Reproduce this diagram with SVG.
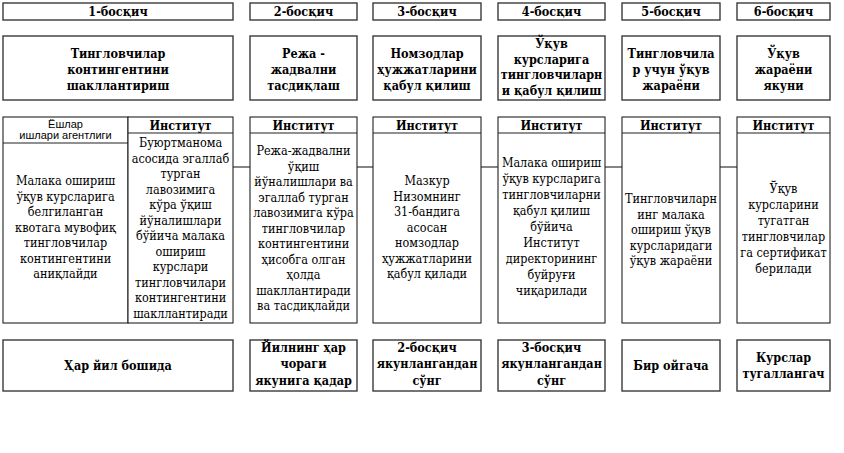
<svg xmlns="http://www.w3.org/2000/svg" width="844" height="453" viewBox="0 0 844 453">
<style>
.bx{fill:#fff;stroke:#3a3a3a;stroke-width:1.4}
.mb{fill:#fff;stroke:#222;stroke-width:1.1}
.ln{stroke:#222;stroke-width:1.1;fill:none}
text{font-family:'DejaVu Serif Condensed','DejaVu Serif',serif;font-stretch:condensed;font-size:12.5px;text-anchor:middle;fill:#000}
.b{font-weight:bold}
.s{font-family:'Liberation Sans',Arial,sans-serif;font-stretch:normal;font-size:11px}
</style>
<rect width="844" height="453" fill="#fff"/>
<g id="connectors">
<line class="ln" x1="233" y1="167" x2="250" y2="167"/>
<line class="ln" x1="357" y1="167" x2="373" y2="167"/>
<line class="ln" x1="481" y1="167" x2="498" y2="167"/>
<line class="ln" x1="605" y1="167" x2="622" y2="167"/>
<line class="ln" x1="720" y1="167" x2="737" y2="167"/>
</g>
<g id="h1"><rect class="bx" x="3" y="3" width="230" height="17"/><text class="b" x="118" y="16">1-босқич</text></g>
<g id="h2"><rect class="bx" x="250" y="3" width="107" height="17"/><text class="b" x="303.5" y="16">2-босқич</text></g>
<g id="h3"><rect class="bx" x="373" y="3" width="108" height="17"/><text class="b" x="427" y="16">3-босқич</text></g>
<g id="h4"><rect class="bx" x="498" y="3" width="107" height="17"/><text class="b" x="551.5" y="16">4-босқич</text></g>
<g id="h5"><rect class="bx" x="622" y="3" width="98" height="17"/><text class="b" x="671" y="16">5-босқич</text></g>
<g id="h6"><rect class="bx" x="737" y="3" width="93" height="17"/><text class="b" x="783.5" y="16">6-босқич</text></g>

<g id="t1"><rect class="bx" x="3" y="36" width="230" height="64"/>
<text class="b" x="118" y="58">Тингловчилар</text><text class="b" x="118" y="74">контингентини</text><text class="b" x="118" y="90">шакллантириш</text></g>
<g id="t2"><rect class="bx" x="250" y="36" width="107" height="64"/>
<text class="b" x="303.5" y="58">Режа -</text><text class="b" x="303.5" y="74">жадвални</text><text class="b" x="303.5" y="90">тасдиқлаш</text></g>
<g id="t3"><rect class="bx" x="373" y="36" width="108" height="64"/>
<text class="b" x="427" y="58">Номзодлар</text><text class="b" x="427" y="74">ҳужжатларини</text><text class="b" x="427" y="90">қабул қилиш</text></g>
<g id="t4"><rect class="bx" x="498" y="36" width="107" height="64"/>
<text class="b" x="551.5" y="48">Ўқув</text><text class="b" x="551.5" y="63.5">курсларига</text><text class="b" x="551.5" y="79">тингловчиларн</text><text class="b" x="551.5" y="94.5">и қабул қилиш</text></g>
<g id="t5"><rect class="bx" x="622" y="36" width="98" height="64"/>
<text class="b" x="671" y="58">Тингловчила</text><text class="b" x="671" y="74">р учун ўқув</text><text class="b" x="671" y="90">жараёни</text></g>
<g id="t6"><rect class="bx" x="737" y="36" width="93" height="64"/>
<text class="b" x="783.5" y="58">Ўқув</text><text class="b" x="783.5" y="74">жараёни</text><text class="b" x="783.5" y="90">якуни</text></g>

<g id="m1a"><rect class="mb" x="3" y="117" width="125" height="206"/>
<line class="ln" x1="3" y1="143" x2="128" y2="143"/>
<text class="s" x="65.5" y="128">Ёшлар</text><text class="s" x="65.5" y="139">ишлари агентлиги</text>
<text x="65.5" y="185">Малака ошириш</text>
<text x="65.5" y="200.5">ўқув курсларига</text>
<text x="65.5" y="216">белгиланган</text>
<text x="65.5" y="231.5">квотага мувофиқ</text>
<text x="65.5" y="247">тингловчилар</text>
<text x="65.5" y="262.5">контингентини</text>
<text x="65.5" y="278">аниқлайди</text></g>
<g id="m1b"><rect class="mb" x="128" y="117" width="105" height="206"/>
<line class="ln" x1="128" y1="133" x2="233" y2="133"/>
<text class="b" x="180.5" y="130">Институт</text>
<text x="180.5" y="147">Буюртманома</text>
<text x="180.5" y="162.5">асосида эгаллаб</text>
<text x="180.5" y="178">турган</text>
<text x="180.5" y="193.5">лавозимига</text>
<text x="180.5" y="209">кўра ўқиш</text>
<text x="180.5" y="224.5">йўналишлари</text>
<text x="180.5" y="240">бўйича малака</text>
<text x="180.5" y="255.5">ошириш</text>
<text x="180.5" y="271">курслари</text>
<text x="180.5" y="286.5">тингловчилари</text>
<text x="180.5" y="302">контингентини</text>
<text x="180.5" y="317.5">шакллантиради</text></g>
<g id="m2"><rect class="mb" x="250" y="117" width="107" height="206"/>
<line class="ln" x1="250" y1="133" x2="357" y2="133"/>
<text class="b" x="303.5" y="130">Институт</text>
<text x="303.5" y="155">Режа-жадвални</text>
<text x="303.5" y="170.5">ўқиш</text>
<text x="303.5" y="186">йўналишлари ва</text>
<text x="303.5" y="201.5">эгаллаб турган</text>
<text x="303.5" y="217">лавозимига кўра</text>
<text x="303.5" y="232.5">тингловчилар</text>
<text x="303.5" y="248">контингентини</text>
<text x="303.5" y="263.5">ҳисобга олган</text>
<text x="303.5" y="279">ҳолда</text>
<text x="303.5" y="294.5">шакллантиради</text>
<text x="303.5" y="310">ва тасдиқлайди</text></g>
<g id="m3"><rect class="mb" x="373" y="117" width="108" height="206"/>
<line class="ln" x1="373" y1="133" x2="481" y2="133"/>
<text class="b" x="427" y="130">Институт</text>
<text x="427" y="185">Мазкур</text>
<text x="427" y="200.5">Низомнинг</text>
<text x="427" y="216">31-бандига</text>
<text x="427" y="231.5">асосан</text>
<text x="427" y="247">номзодлар</text>
<text x="427" y="262.5">ҳужжатларини</text>
<text x="427" y="278">қабул қилади</text></g>
<g id="m4"><rect class="mb" x="498" y="117" width="107" height="206"/>
<line class="ln" x1="498" y1="133" x2="605" y2="133"/>
<text class="b" x="551.5" y="130">Институт</text>
<text x="551.5" y="167">Малака ошириш</text>
<text x="551.5" y="183">ўқув курсларига</text>
<text x="551.5" y="199">тингловчиларни</text>
<text x="551.5" y="215">қабул қилиш</text>
<text x="551.5" y="231">бўйича</text>
<text x="551.5" y="247">Институт</text>
<text x="551.5" y="263">директорининг</text>
<text x="551.5" y="279">буйруғи</text>
<text x="551.5" y="295">чиқарилади</text></g>
<g id="m5"><rect class="mb" x="622" y="117" width="98" height="206"/>
<line class="ln" x1="622" y1="133" x2="720" y2="133"/>
<text class="b" x="671" y="130">Институт</text>
<text x="671" y="203">Тингловчиларн</text>
<text x="671" y="218.5">инг малака</text>
<text x="671" y="234">ошириш ўқув</text>
<text x="671" y="249.5">курсларидаги</text>
<text x="671" y="265">ўқув жараёни</text></g>
<g id="m6"><rect class="mb" x="737" y="117" width="93" height="206"/>
<line class="ln" x1="737" y1="133" x2="830" y2="133"/>
<text class="b" x="783.5" y="130">Институт</text>
<text x="783.5" y="193">Ўқув</text>
<text x="783.5" y="209">курсларини</text>
<text x="783.5" y="225">тугатган</text>
<text x="783.5" y="241">тингловчилар</text>
<text x="783.5" y="257">га сертификат</text>
<text x="783.5" y="273">берилади</text></g>

<g id="b1"><rect class="bx" x="3" y="340" width="230" height="51"/><text class="b" x="118" y="370">Ҳар йил бошида</text></g>
<g id="b2"><rect class="bx" x="250" y="340" width="107" height="51"/>
<text class="b" x="303.5" y="352">Йилнинг ҳар</text><text class="b" x="303.5" y="368">чораги</text><text class="b" x="303.5" y="385">якунига қадар</text></g>
<g id="b3"><rect class="bx" x="373" y="340" width="108" height="51"/>
<text class="b" x="427" y="352">2-босқич</text><text class="b" x="427" y="368">якунлангандан</text><text class="b" x="427" y="385">сўнг</text></g>
<g id="b4"><rect class="bx" x="498" y="340" width="107" height="51"/>
<text class="b" x="551.5" y="352">3-босқич</text><text class="b" x="551.5" y="368">якунлангандан</text><text class="b" x="551.5" y="385">сўнг</text></g>
<g id="b5"><rect class="bx" x="622" y="340" width="98" height="51"/><text class="b" x="671" y="370">Бир ойгача</text></g>
<g id="b6"><rect class="bx" x="737" y="340" width="93" height="51"/>
<text class="b" x="783.5" y="362">Курслар</text><text class="b" x="783.5" y="378">тугаллангач</text></g>
</svg>
